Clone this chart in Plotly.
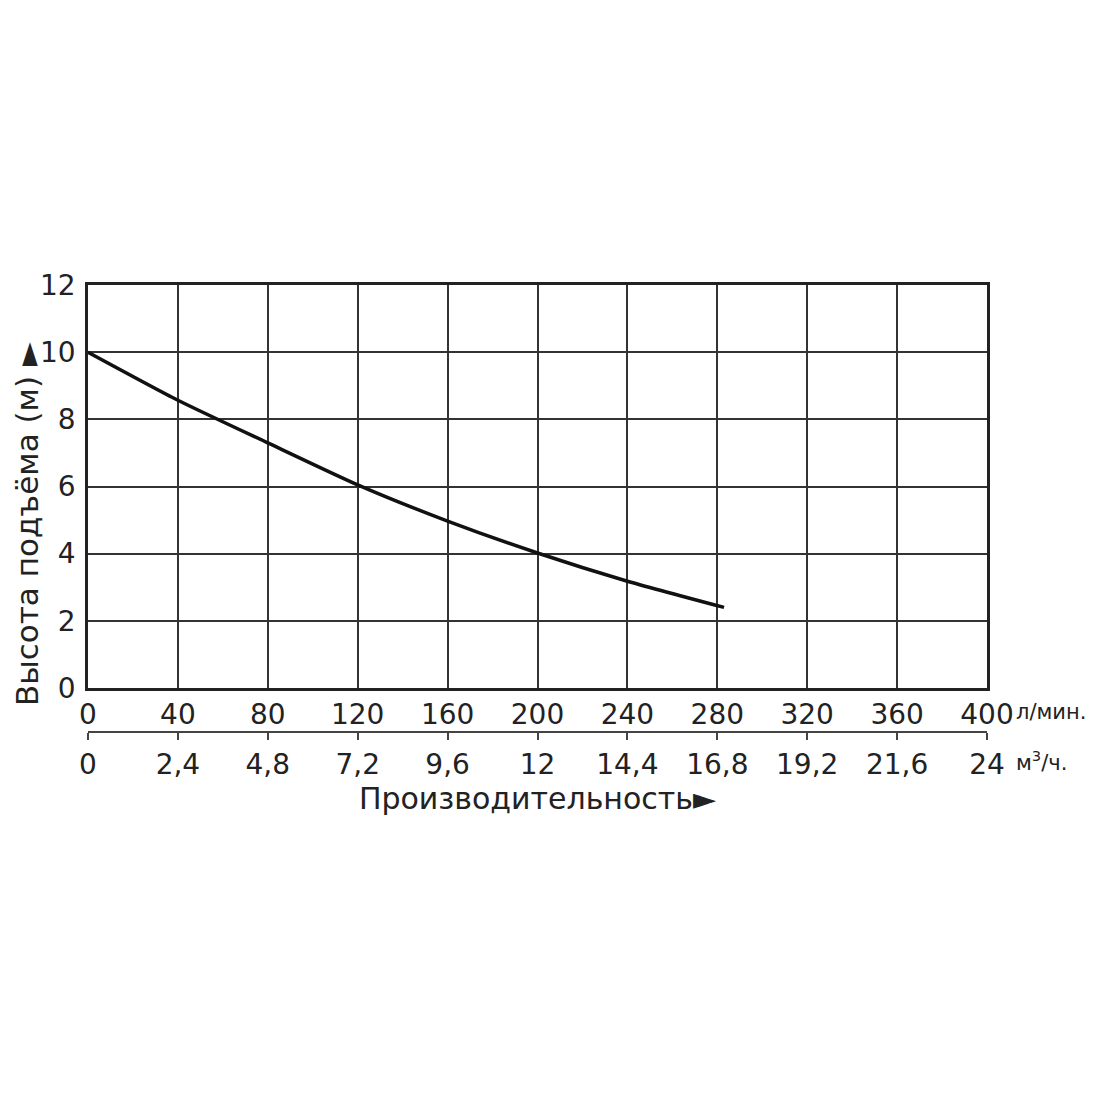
"""Напорная характеристика насоса."""

import plotly.graph_objects as go

# Данные кривой: расход (л/мин) и напор (м)
flow_lpm = [0, 40, 80, 120, 160, 200, 240, 283]
head_m = [10, 8.57, 7.3, 6.05, 4.97, 4.02, 3.18, 2.4]

# Деления осей
lpm_ticks = [0, 40, 80, 120, 160, 200, 240, 280, 320, 360, 400]
m3h_ticks = [0, 2.4, 4.8, 7.2, 9.6, 12, 14.4, 16.8, 19.2, 21.6, 24]
m3h_labels = ["0", "2,4", "4,8", "7,2", "9,6", "12", "14,4", "16,8", "19,2", "21,6", "24"]
head_ticks = [0, 2, 4, 6, 8, 10, 12]

FONT = "DejaVu Sans"
INK = "#222222"

fig = go.Figure()

fig.add_trace(
    go.Scatter(
        x=flow_lpm,
        y=head_m,
        mode="lines",
        line=dict(color="#111111", width=3.5, shape="spline", smoothing=0.6),
        hoverinfo="skip",
        showlegend=False,
    )
)

# Пустая серия, чтобы привязать вторую шкалу (м³/ч)
fig.add_trace(
    go.Scatter(
        x=m3h_ticks,
        y=[None] * len(m3h_ticks),
        xaxis="x2",
        mode="lines",
        hoverinfo="skip",
        showlegend=False,
    )
)

fig.update_layout(
    width=1100,
    height=1100,
    paper_bgcolor="white",
    plot_bgcolor="white",
    margin=dict(l=80, r=121, t=277, b=376),
    font=dict(family=FONT, size=28, color=INK),
    xaxis=dict(
        range=[0, 400],
        tickvals=lpm_ticks,
        showgrid=True,
        gridcolor="#333333",
        gridwidth=2,
        showline=True,
        linecolor=INK,
        linewidth=2.5,
        mirror=True,
        ticks="",
        zeroline=False,
        automargin=False,
    ),
    xaxis2=dict(
        overlaying="x",
        anchor="free",
        position=0,
        side="bottom",
        range=[0, 24],
        tickvals=m3h_ticks,
        ticktext=m3h_labels,
        showgrid=False,
        showline=True,
        linecolor="#444444",
        linewidth=2,
        ticks="outside",
        ticklen=7,
        tickwidth=2,
        tickcolor="#444444",
        zeroline=False,
        automargin=False,
        title=dict(text="Производительность►", standoff=5, font=dict(size=30)),
    ),
    yaxis=dict(
        domain=[0.0984, 1],
        range=[0, 12],
        tickvals=head_ticks,
        showgrid=True,
        gridcolor="#333333",
        gridwidth=2,
        showline=True,
        linecolor=INK,
        linewidth=2.5,
        mirror=True,
        ticks="",
        ticklabelstandoff=4,
        zeroline=False,
        automargin=False,
    ),
    annotations=[
        dict(
            text="Высота подъёма (м) ►",
            textangle=-90,
            xref="paper",
            yref="paper",
            x=-0.068,
            y=0.465,
            xanchor="center",
            yanchor="middle",
            showarrow=False,
            font=dict(size=31, color=INK),
        ),
        dict(
            text="л/мин.",
            xref="paper",
            yref="paper",
            x=1.03,
            y=0.045,
            xanchor="left",
            yanchor="middle",
            showarrow=False,
            font=dict(size=21, color=INK),
        ),
        dict(
            text="м<sup>3</sup>/ч.",
            xref="paper",
            yref="paper",
            x=1.03,
            y=-0.065,
            xanchor="left",
            yanchor="middle",
            showarrow=False,
            font=dict(size=21, color=INK),
        ),
    ],
)

fig.write_html("out.html")
